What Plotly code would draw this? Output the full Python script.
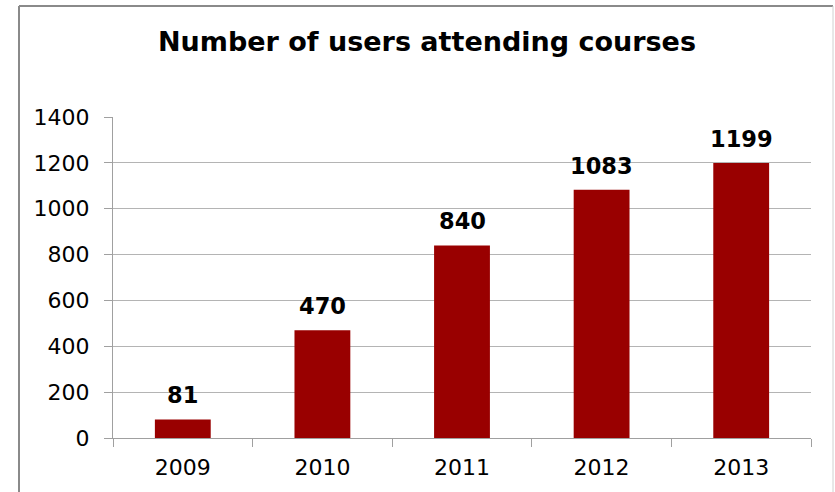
import plotly.graph_objects as go

years = ["2009", "2010", "2011", "2012", "2013"]
users = [81, 470, 840, 1083, 1199]
title_text = "Number of users attending courses"
y_ticks = [0, 200, 400, 600, 800, 1000, 1200, 1400]

W, H = 835, 492
L, R, T, B = 113, 24, 117, 54
pw, ph = W - L - R, H - T - B

def px_to_paper_x(x):
    return (x - L) / pw

def px_to_paper_y(y):
    return (H - B - y) / ph

fig = go.Figure()
fig.add_trace(go.Bar(
    x=years, y=users,
    marker=dict(color="#990000", line=dict(width=0)),
    width=0.4,
    hoverinfo="x+y",
))

for i, v in enumerate(users):
    fig.add_annotation(
        x=i, y=v, text=f"<b>{v}</b>", showarrow=False,
        yanchor="bottom", yshift=9,
        font=dict(family="DejaVu Sans", size=22.5, color="#000000"),
    )

# outer chart border
border = "#8a8a8a"
x0, x1 = px_to_paper_x(19), px_to_paper_x(833)
y0, y1 = px_to_paper_y(500), px_to_paper_y(6)
fig.add_shape(type="line", xref="paper", yref="paper", x0=x0, x1=x0, y0=y0, y1=y1,
              line=dict(color=border, width=2))
fig.add_shape(type="line", xref="paper", yref="paper", x0=x0, x1=x1, y0=y1, y1=y1,
              line=dict(color=border, width=2))
fig.add_shape(type="line", xref="paper", yref="paper", x0=x1, x1=x1, y0=y0, y1=y1,
              line=dict(color="#d0d0d0", width=1))

fig.update_layout(
    width=W, height=H,
    margin=dict(l=L, r=R, t=T, b=B, pad=0),
    paper_bgcolor="white", plot_bgcolor="white",
    showlegend=False,
    title=dict(text=f"<b>{title_text}</b>", x=427 / W, xref="container", xanchor="center",
               y=1 - 42 / H, yanchor="middle",
               font=dict(family="DejaVu Sans", size=27, color="#000000")),
    font=dict(family="DejaVu Sans", size=21, color="#000000"),
    bargap=0.6,
)
fig.update_xaxes(
    type="category", range=[-0.5, len(years) - 0.5],
    showgrid=False, showline=True, linecolor="#a0a0a0", linewidth=1,
    ticks="outside", tickson="boundaries", ticklen=8, tickcolor="#a0a0a0",
    tickfont=dict(family="DejaVu Sans", size=22, color="#000000"),
    ticklabelstandoff=10, tickangle=0, fixedrange=True,
)
fig.update_yaxes(
    range=[0, 1400], tickvals=y_ticks, showgrid=True, gridcolor="#b4b4b4", gridwidth=1,
    showline=True, linecolor="#a0a0a0", linewidth=1,
    ticks="outside", ticklen=8, tickcolor="#a0a0a0",
    tickfont=dict(family="DejaVu Sans", size=22, color="#000000"),
    ticklabelstandoff=10, zeroline=False, fixedrange=True,
)

fig.write_html("out.html")
